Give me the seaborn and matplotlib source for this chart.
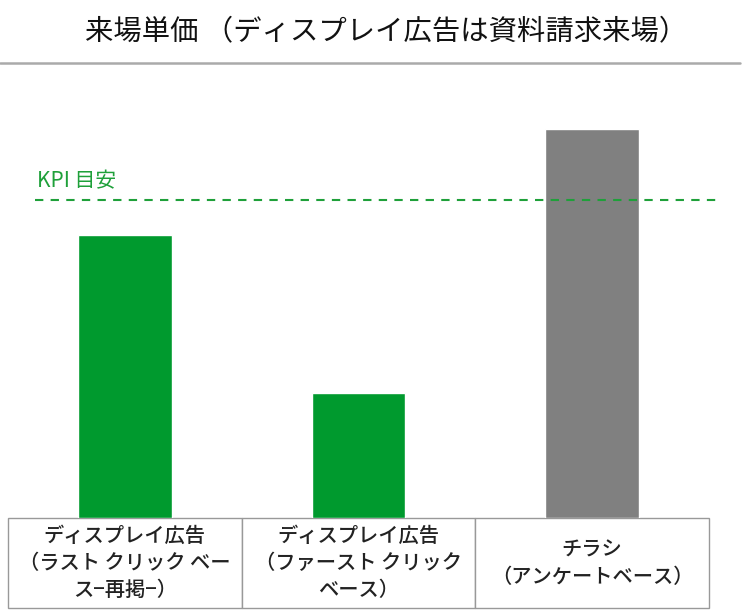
import pandas as pd
import matplotlib
matplotlib.use("Agg")
import matplotlib.pyplot as plt
from matplotlib.lines import Line2D
import seaborn as sns

# data (arbitrary units)
categories = ["ディスプレイ広告\n（ラスト クリック ベー\nス−再掲−）",
              "ディスプレイ広告\n（ファースト クリック\nベース）",
              "チラシ\n（アンケートベース）"]
values = [283, 125, 389]
bar_colors = ["#009a2e", "#009a2e", "#808080"]
kpi_value = 318
kpi_label = "KPI 目安"
title = "来場単価 （ディスプレイ広告は資料請求来場）"

sns.set_theme(style="white")
plt.rcParams['font.family'] = ['Noto Sans CJK JP', 'DejaVu Sans']

W, H = 743, 610
fig = plt.figure(figsize=(W / 100, H / 100), dpi=100)
ax = fig.add_axes([8 / W, (H - 518) / H, 701 / W, 438 / H])

df = pd.DataFrame({"cat": ["a", "b", "c"], "val": values})
sns.barplot(data=df, x="cat", y="val", hue="cat", palette=bar_colors,
            width=0.4, legend=False, ax=ax, saturation=1)
ax.set_xlim(-0.5, 2.5)
ax.set_ylim(0, 438)
ax.set_xticks([])
ax.set_yticks([])
ax.set_xlabel("")
ax.set_ylabel("")
sns.despine(ax=ax, left=True, bottom=True)

# KPI line
ax.axhline(kpi_value, xmin=27 / 701, xmax=1.01, color="#1fa03a", lw=1.5,
           ls=(0, (4, 3.5)), clip_on=False)
ax.text(-0.5 + 29 / 233.7, kpi_value + 8, kpi_label, color="#1fa03a",
        fontsize=15, va="bottom", ha="left")

# category label table
tbl = ax.table(cellText=[categories], cellLoc="center",
               bbox=[0, -90 / 438, 1, 90 / 438])
tbl.auto_set_font_size(False)
for (r, c), cell in tbl.get_celld().items():
    cell.set_edgecolor("#999999")
    cell.set_linewidth(1.0)
    cell.get_text().set_fontsize(14.6)
    cell.get_text().set_fontweight("medium")
    cell.get_text().set_color("#222222")
    cell.get_text().set_linespacing(1.3)

# title and rule
fig.text(386 / W, 1 - 31 / H, title, ha="center", va="center",
         fontsize=20.4, color="#111111")
fig.add_artist(Line2D([0, 740 / W], [1 - 63 / H, 1 - 63 / H],
                      color="#aaaaaa", lw=1.8))

fig.savefig("out.png", dpi=100)
